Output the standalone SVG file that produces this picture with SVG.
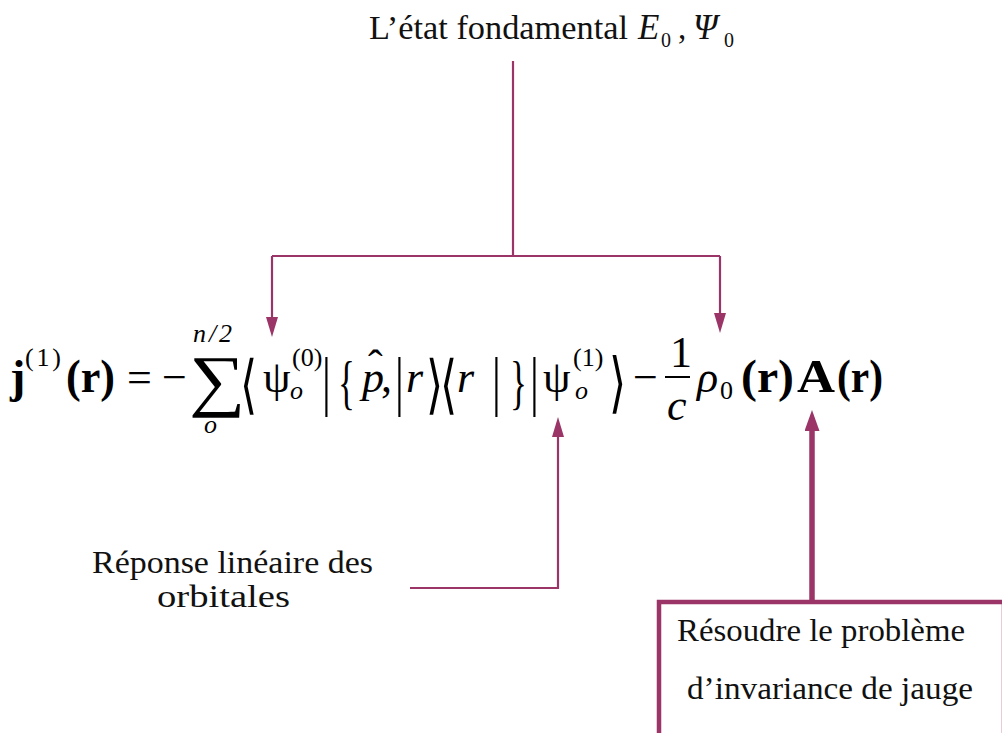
<svg xmlns="http://www.w3.org/2000/svg" width="1002" height="733" viewBox="0 0 1002 733">
<style>
text{font-family:'Liberation Serif','Times New Roman',serif;fill:#000;}
.lbl{fill:#111;}
.m{font-size:44px;}
.b{font-weight:bold;font-size:46px;}
.i{font-style:italic;}
.s{font-size:26px;}
.d{font-family:'DejaVu Serif','Liberation Serif',serif;font-size:44px;}
.ln{fill:none;stroke:#9b3467;stroke-width:2.2;}
.thick{fill:none;stroke:#9b3467;stroke-width:5.5;}
</style>
<defs>
<marker id="ah" markerUnits="userSpaceOnUse" markerWidth="20" markerHeight="12" refX="0" refY="6" orient="auto" viewBox="0 0 20 12">
<path d="M0,0 L20,6 L0,12 z" fill="#9b3467"/>
</marker>
<marker id="ahb" markerUnits="userSpaceOnUse" markerWidth="21" markerHeight="15" refX="0" refY="7.5" orient="auto" viewBox="0 0 21 15">
<path d="M0,0 L21,7.5 L0,15 z" fill="#9b3467"/>
</marker>
</defs>

<g id="top-label">
<text class="lbl" x="369" y="39" font-size="33" textLength="259" lengthAdjust="spacingAndGlyphs">L’état fondamental</text>
<text class="lbl i" x="638" y="39" font-size="35">E</text>
<text class="lbl" x="661" y="47" font-size="20">0</text>
<text class="lbl" x="678" y="39" font-size="33">,</text>
<text class="lbl i" x="693" y="39" font-size="35">Ψ</text>
<text class="lbl" x="724" y="47" font-size="20">0</text>
</g>

<g id="equation">
<text class="m b" x="10" y="392">j</text>
<text class="m s" x="25" y="366" textLength="36" lengthAdjust="spacing">(1)</text>
<text class="m b" x="66" y="392" textLength="49" lengthAdjust="spacingAndGlyphs">(r)</text>
<text class="m" x="127" y="392">=</text>
<text class="m" x="162" y="392">−</text>
<text class="m" transform="translate(189,403) scale(1.8,1.55)">∑</text>
<text class="m i s" x="204" y="433">o</text>
<text class="m i s" x="193" y="342" textLength="39" lengthAdjust="spacing">n/2</text>
<text class="d" transform="translate(240,406) scale(1,1.45)">⟨</text>
<text class="m" x="263" y="392">ψ</text>
<text class="m s" x="292" y="366">(0)</text>
<text class="m i s" x="290" y="399">o</text>
<text class="m" transform="translate(322,403) scale(1,1.5)">|</text>
<text class="m" transform="translate(338,402) scale(0.8,1.35)">{</text>
<text class="m i" x="362" y="392">p</text>
<text class="m" x="368" y="380" font-size="30">ˆ</text>
<text class="m" x="381" y="392">,</text>
<text class="m" transform="translate(395,403) scale(1,1.5)">|</text>
<text class="m i" x="406" y="392">r</text>
<text class="d" transform="translate(426,406) scale(1,1.45)">⟩</text>
<text class="d" transform="translate(440,406) scale(1,1.45)">⟨</text>
<text class="m i" x="457" y="392">r</text>
<text class="m" transform="translate(492,403) scale(1,1.5)">|</text>
<text class="m" transform="translate(510,402) scale(0.8,1.35)">}</text>
<text class="m" transform="translate(530,403) scale(1,1.5)">|</text>
<text class="m" x="543" y="392">ψ</text>
<text class="m s" x="573" y="366">(1)</text>
<text class="m i s" x="575" y="399">o</text>
<text class="d" transform="translate(609,405) scale(1,1.5)">⟩</text>
<text class="m" x="633" y="392">−</text>
<text class="m" x="670" y="367">1</text>
<line x1="665" y1="377" x2="690" y2="377" stroke="#000" stroke-width="2"/>
<text class="m i" x="667" y="420">c</text>
<text class="m i" x="697" y="392" font-size="48">ρ</text>
<text class="m s" x="720" y="399">0</text>
<text class="m b" x="741" y="392" textLength="53" lengthAdjust="spacingAndGlyphs">(r)</text>
<text class="m b" x="797" y="392" textLength="38" lengthAdjust="spacingAndGlyphs">A</text>
<text class="m b" x="837" y="392" textLength="46" lengthAdjust="spacingAndGlyphs">(r)</text>
</g>

<g id="reponse-label">
<text class="lbl" x="92" y="573" font-size="32" textLength="281" lengthAdjust="spacingAndGlyphs">Réponse linéaire des</text>
<text class="lbl" x="157" y="607" font-size="32" textLength="133" lengthAdjust="spacingAndGlyphs">orbitales</text>
</g>

<g id="gauge-box">
<rect x="659" y="602" width="345" height="136" fill="#fff" stroke="#9b3467" stroke-width="4.5"/>
<text class="lbl" x="677" y="641" font-size="32" textLength="288" lengthAdjust="spacingAndGlyphs">Résoudre le problème</text>
<text class="lbl" x="687" y="699" font-size="32" textLength="286" lengthAdjust="spacingAndGlyphs">d’invariance de jauge</text>
</g>

<g id="connectors">
<path class="ln" d="M513,61 V256"/>
<path class="ln" d="M272,256 H720"/>
<path class="ln" d="M272,256 V317" marker-end="url(#ah)"/>
<path class="ln" d="M720,256 V313" marker-end="url(#ah)"/>
<path class="ln" d="M410,588 H558 V437" marker-end="url(#ah)"/>
<path class="thick" d="M812,600 V431" marker-end="url(#ahb)"/>
</g>
</svg>
